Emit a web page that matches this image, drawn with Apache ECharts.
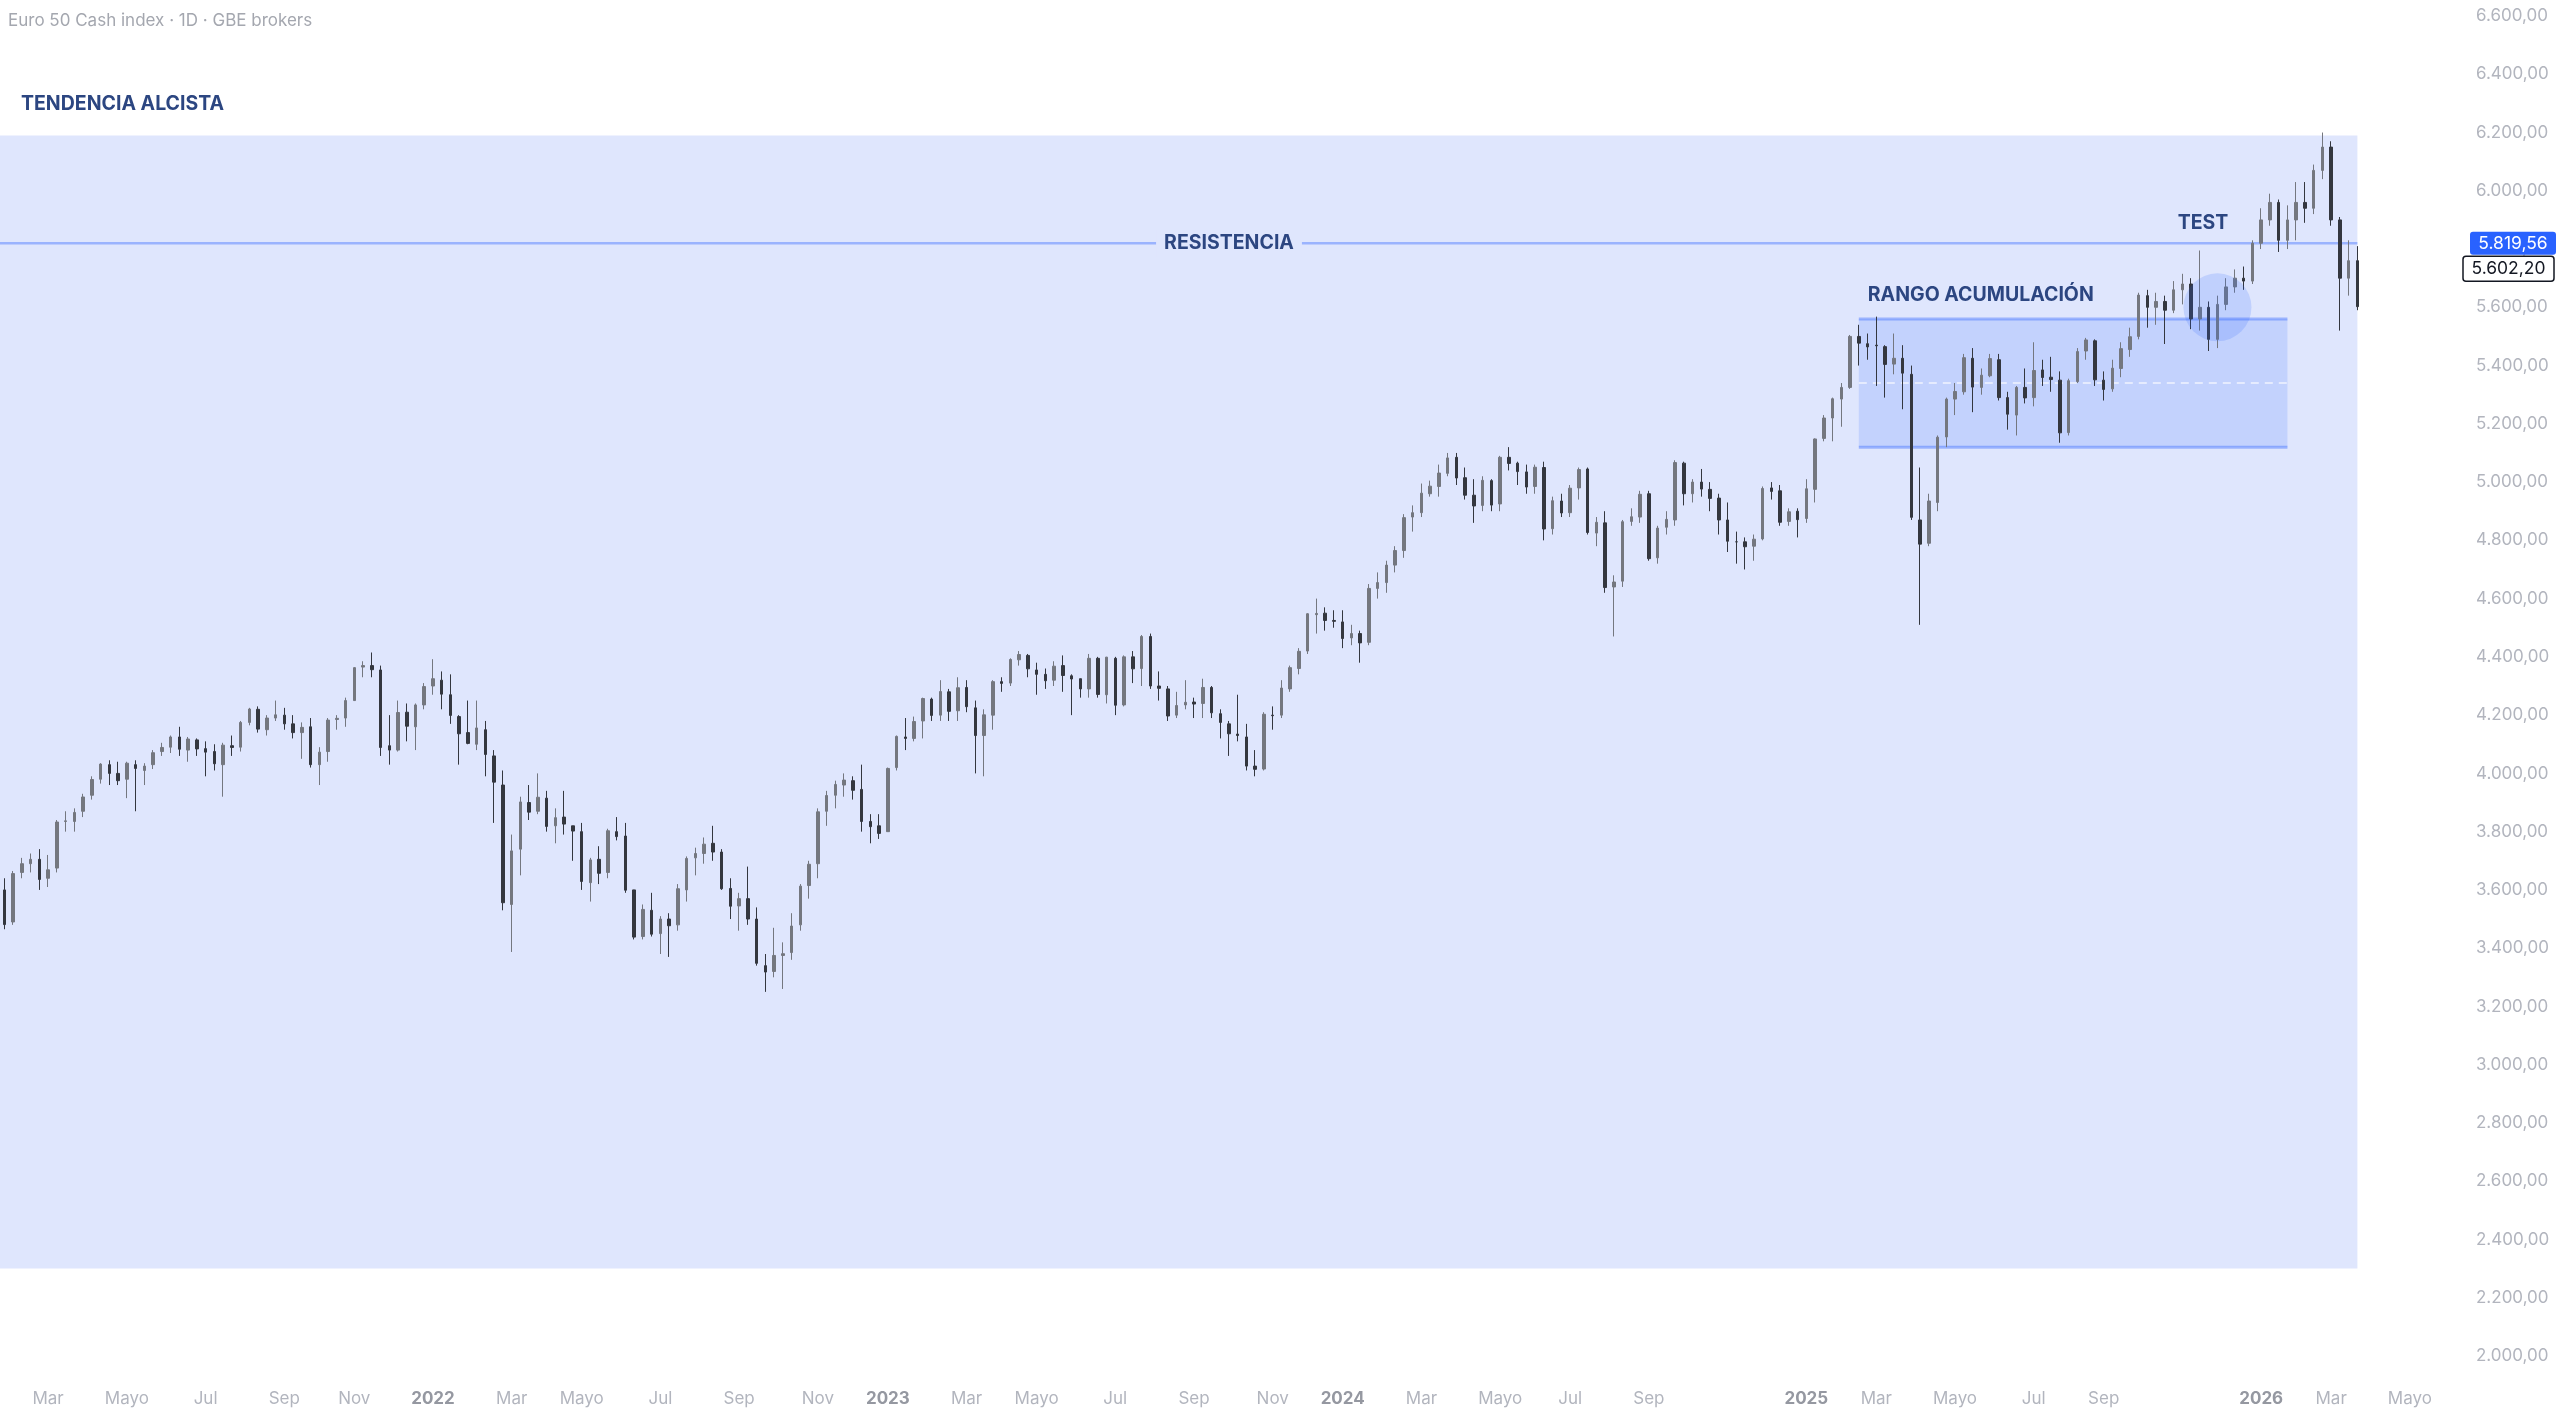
<!DOCTYPE html>
<html>
<head>
<meta charset="utf-8">
<title>Euro 50 Cash index</title>
<script src="https://cdn.jsdelivr.net/npm/echarts@6/dist/echarts.min.js"></script>
<style>
  html, body { margin: 0; padding: 0; background: #fff; }
  #main { width: 2560px; height: 1414px; }
</style>
</head>
<body>
<div id="main"></div>
<script>
// weekly bars, each [open, close, low, high]
const ohlc2021 = [
  [3600,3481,3465,3640],[3490,3656,3480,3665],[3660,3690,3640,3710],[3690,3705,3660,3725],
  [3705,3636,3600,3740],[3640,3669,3610,3720],[3675,3833,3660,3840],[3835,3837,3800,3870],
  [3835,3866,3800,3880],[3870,3919,3850,3930],[3925,3979,3910,3990],[3980,4032,3965,4035],
  [4030,4000,3960,4045],[4000,3975,3960,4040],[3980,4035,3915,4040],[4030,4017,3870,4045],
  [4010,4025,3960,4035],[4030,4071,4015,4080],[4075,4089,4060,4105],[4090,4125,4070,4130],
  [4125,4083,4060,4160],[4080,4118,4040,4125],[4115,4084,4060,4120],[4085,4073,3990,4110],
  [4075,4033,4010,4100],[4030,4097,3920,4105],[4095,4089,4060,4130],[4090,4175,4075,4180],
  [4175,4221,4165,4225],[4220,4152,4140,4230],[4150,4190,4130,4200],[4190,4201,4180,4250],
  [4200,4170,4150,4225],[4170,4140,4120,4200],[4140,4158,4050,4175],[4160,4030,4020,4190],
  [4030,4073,3960,4090],[4075,4183,4040,4190],[4185,4189,4150,4200],[4190,4250,4160,4260],
  [4250,4363,4250,4365],[4365,4370,4330,4385],[4370,4356,4330,4415],[4355,4089,4060,4370],
  [4095,4080,4030,4200],[4080,4209,4075,4250],[4210,4162,4110,4240],[4160,4235,4080,4240],
  [4235,4298,4220,4310]
]
const ohlc2022 = [
  [4300,4325,4270,4392],[4320,4272,4220,4350],[4270,4199,4170,4340],[4195,4136,4030,4200],
  [4140,4103,4100,4250],[4100,4156,4080,4250],[4150,4065,3990,4180],[4060,3970,3830,4080],
  [3960,3556,3530,4010],[3550,3734,3387,3790],[3740,3902,3650,3920],[3900,3867,3840,3960],
  [3870,3918,3860,4000],[3915,3818,3800,3940],[3820,3848,3760,3880],[3850,3826,3790,3940],
  [3820,3802,3700,3820],[3800,3629,3600,3830],[3625,3703,3560,3710],[3705,3657,3620,3750],
  [3660,3803,3640,3810],[3800,3783,3770,3850],[3785,3599,3590,3830],[3600,3438,3430,3580],
  [3440,3533,3430,3550],[3530,3448,3440,3590],[3450,3500,3380,3510],[3500,3477,3370,3520],
  [3480,3604,3460,3620],[3600,3708,3560,3715],[3710,3725,3650,3745],[3725,3757,3690,3780],
  [3760,3730,3700,3820],[3730,3604,3600,3740],[3605,3544,3500,3640],[3545,3570,3460,3590],
  [3570,3500,3480,3680],[3500,3348,3340,3540],[3340,3318,3250,3380],[3320,3375,3300,3470],
  [3375,3381,3260,3420],[3385,3476,3360,3520],[3480,3613,3460,3620],[3615,3688,3570,3700],
  [3690,3868,3640,3880],[3870,3924,3820,3940],[3925,3962,3880,3975],[3960,3977,3920,4000],
  [3975,3942,3910,3990],[3945,3835,3800,4030],[3835,3817,3760,3860],[3820,3794,3775,3860]
]
const ohlc2023 = [
  [3800,4017,3800,4020],[4020,4127,4010,4130],[4125,4120,4080,4190],[4120,4178,4110,4195],
  [4180,4257,4120,4260],[4255,4199,4180,4260],[4200,4281,4180,4320],[4280,4213,4180,4290],
  [4215,4294,4180,4330],[4295,4229,4210,4320],[4225,4130,4000,4250],[4130,4201,3990,4220],
  [4200,4315,4150,4320],[4315,4309,4280,4330],[4310,4391,4300,4395],[4390,4408,4370,4420],
  [4405,4359,4330,4410],[4355,4340,4270,4380],[4340,4318,4290,4360],[4320,4368,4300,4385],
  [4370,4336,4280,4405],[4335,4324,4200,4340],[4325,4290,4260,4325],[4290,4395,4260,4410],
  [4395,4271,4260,4400],[4270,4399,4240,4400],[4395,4234,4200,4400],[4235,4400,4230,4405],
  [4400,4359,4310,4420],[4360,4470,4300,4475],[4470,4300,4290,4480],[4300,4292,4250,4350],
  [4290,4197,4180,4300],[4200,4233,4190,4280],[4235,4244,4220,4320],[4245,4238,4190,4260],
  [4240,4295,4190,4325],[4295,4208,4190,4300],[4205,4175,4120,4220],[4170,4136,4060,4180],
  [4135,4130,4110,4270],[4125,4025,4010,4170],[4025,4014,3990,4080],[4015,4203,4010,4210],
  [4200,4198,4150,4230],[4200,4293,4190,4320],[4290,4363,4280,4370],[4360,4419,4340,4430],
  [4420,4548,4410,4550],[4545,4549,4480,4600],[4550,4525,4490,4570],[4525,4522,4500,4560]
]
const ohlc2024 = [
  [4520,4463,4430,4560],[4465,4480,4440,4510],[4480,4448,4380,4490],[4450,4635,4440,4650],
  [4635,4655,4600,4690],[4655,4715,4620,4730],[4715,4765,4690,4780],[4765,4878,4740,4890],
  [4880,4895,4830,4920],[4895,4962,4880,4995],[4960,4986,4950,5005],[4985,5031,4950,5060],
  [5030,5083,5020,5100],[5085,5014,4990,5100],[5015,4955,4940,5050],[4955,4918,4860,5010],
  [4920,5006,4900,5020],[5005,4921,4900,5010],[4925,5085,4900,5090],[5085,5064,5040,5120],
  [5065,5036,4990,5070],[5035,4983,4960,5060],[4985,5051,4960,5060],[5050,4839,4800,5070],
  [4840,4936,4820,4950],[4935,4894,4880,4960],[4895,4979,4880,4990],[4980,5043,4940,5050],
  [5045,4827,4820,5050],[4825,4862,4780,4880],[4860,4638,4620,4900],[4640,4657,4470,4680],
  [4660,4864,4640,4870],[4865,4881,4850,4910],[4880,4958,4860,4970],[4960,4737,4730,4970],
  [4740,4842,4720,4850],[4845,4872,4820,4900],[4870,5067,4850,5075],[5065,4960,4920,5070],
  [4960,5000,4930,5010],[5000,4976,4950,5045],[4975,4944,4900,5000],[4945,4870,4820,4960],
  [4870,4797,4760,4930],[4795,4795,4720,4830],[4795,4778,4700,4810],[4780,4804,4730,4820],
  [4805,4978,4800,4985],[4980,4968,4940,5000],[4970,4862,4850,4990],[4865,4898,4850,4910],
  [4900,4871,4810,4910]
]
const ohlc2025 = [
  [4875,4977,4860,5010],[4975,5148,4930,5150],[5150,5220,5140,5230],[5220,5286,5140,5290],
  [5285,5325,5190,5340],[5325,5500,5320,5505],[5500,5477,5400,5540],[5475,5464,5420,5510],
  [5470,5468,5330,5568],[5465,5404,5290,5470],[5405,5425,5370,5510],[5425,5374,5250,5470],
  [5370,4879,4870,5400],[4870,4787,4510,5050],[4790,4935,4780,4960],[4930,5154,4900,5160],
  [5155,5285,5120,5290],[5285,5311,5230,5340],[5310,5427,5300,5440],[5425,5326,5240,5460],
  [5325,5367,5300,5390],[5365,5424,5360,5440],[5420,5290,5280,5440],[5290,5233,5180,5310],
  [5230,5325,5160,5330],[5325,5289,5270,5390],[5290,5383,5260,5480],[5385,5359,5330,5420],
  [5360,5352,5310,5430],[5350,5169,5135,5380],[5170,5348,5160,5355],[5345,5448,5340,5460],
  [5450,5488,5420,5495],[5485,5351,5330,5490],[5350,5318,5280,5380],[5320,5391,5310,5420],
  [5390,5458,5360,5480],[5455,5499,5430,5530],[5500,5642,5490,5650],[5640,5600,5530,5660],
  [5600,5620,5540,5650],[5620,5590,5474,5640],[5590,5660,5580,5690],[5660,5680,5610,5715],
  [5680,5560,5525,5700],[5560,5600,5520,5795],[5600,5490,5450,5620],[5490,5610,5460,5640],
  [5610,5670,5590,5700],[5670,5700,5650,5730],[5700,5690,5660,5740],[5690,5820,5680,5830]
]
const ohlc2026 = [
  [5820,5900,5800,5940],[5900,5960,5880,5990],[5960,5830,5790,5970],[5830,5900,5800,5950],
  [5900,5960,5830,6030],[5960,5940,5890,6030],[5940,6070,5920,6090],[6070,6150,6040,6200],
  [6150,5900,5880,6170],[5900,5700,5520,5910],[5700,5760,5640,5830],[5760,5602.2,5590,5810]
]

// x axis: one category per trading week, running past the last bar
const firstWeek = '2021-01-25'
const axisWeeks = 281
const monthLabels = ['Ene', 'Feb', 'Mar', 'Abr', 'Mayo', 'Jun', 'Jul', 'Ago', 'Sep', 'Oct', 'Nov', 'Dic']
const hiddenMonths = ['2024-11', '2025-11']

// y axis ticks
const priceMin = 2000
const priceMax = 6600
const priceStep = 200

// drawings
const trendTop = 6190
const trendBottom = 2300
const resistanceLevel = 5819.56
const lastPrice = 5602.20
const rangeTop = 5560
const rangeBottom = 5120
const rangeStart = '2025-02-17'
const rangeEnd = '2026-01-26'
const testWeek = '2025-11-17'
const testCircleWeek = '2025-12-01'
const testCirclePrice = 5600
const resistanceLabelWeek = '2023-10-02'

const prices = [].concat(ohlc2021, ohlc2022, ohlc2023, ohlc2024, ohlc2025, ohlc2026)

const DAY = 864e5
const weeks = []
const t0 = Date.parse(firstWeek + 'T00:00:00Z')
for (let i = 0; i < axisWeeks; i++) {
  weeks.push(new Date(t0 + i * 7 * DAY).toISOString().slice(0, 10))
}

// a week gets the month label when its monday is the first one in that month
function mondayMonth(i) {
  const d = new Date(t0 + i * 7 * DAY)
  return [d.getUTCFullYear(), d.getUTCMonth()]
}
function tickText(i) {
  if (i === 0) return ''
  const [y, m] = mondayMonth(i)
  const [, pm] = mondayMonth(i - 1)
  if (m === pm || m % 2 !== 0) return ''
  if (hiddenMonths.indexOf(y + '-' + String(m + 1).padStart(2, '0')) >= 0) return ''
  return m === 0 ? '{y|' + y + '}' : monthLabels[m]
}

function fmtPrice(v) {
  const parts = Number(v).toFixed(2).split('.')
  return parts[0].replace(/\B(?=(\d{3})+(?!\d))/g, '.') + ',' + parts[1]
}

const navy = '#2c4681'
const font = 'Inter, "Noto Sans", sans-serif'
const lineBlue = 'rgba(41, 98, 255, 0.38)'

function drawBackground(params, api) {
  const band = api.size([1, 0])[0]
  const lastIdx = prices.length - 1
  const left = api.coord([0, trendTop])[0] - band / 2
  const right = api.coord([lastIdx, trendTop])[0]
  const top = api.coord([0, trendTop])[1]
  const bottom = api.coord([0, trendBottom])[1]
  const resY = api.coord([0, resistanceLevel])[1]
  const r0 = weeks.indexOf(rangeStart)
  const r1 = weeks.indexOf(rangeEnd)
  const rx0 = api.coord([r0, rangeTop])[0]
  const rx1 = api.coord([r1, rangeTop])[0]
  const ry0 = api.coord([r0, rangeTop])[1]
  const ry1 = api.coord([r0, rangeBottom])[1]
  const rMid = api.coord([r0, (rangeTop + rangeBottom) / 2])[1]
  return {
    type: 'group',
    children: [
      { type: 'rect', shape: { x: left, y: top, width: right - left, height: bottom - top },
        style: { fill: '#dfe6fd' } },
      { type: 'line', shape: { x1: left, y1: resY, x2: right, y2: resY },
        style: { stroke: lineBlue, lineWidth: 2.5 } },
      { type: 'rect', shape: { x: rx0, y: ry0, width: rx1 - rx0, height: ry1 - ry0 },
        style: { fill: 'rgba(41, 98, 255, 0.15)' } },
      { type: 'line', shape: { x1: rx0, y1: ry0, x2: rx1, y2: ry0 },
        style: { stroke: lineBlue, lineWidth: 3 } },
      { type: 'line', shape: { x1: rx0, y1: ry1, x2: rx1, y2: ry1 },
        style: { stroke: lineBlue, lineWidth: 3 } },
      { type: 'line', shape: { x1: rx0, y1: rMid, x2: rx1, y2: rMid },
        style: { stroke: 'rgba(255, 255, 255, 0.75)', lineWidth: 1.5, lineDash: [8, 6] } }
    ]
  }
}

function drawOverlay(params, api) {
  const cs = params.coordSys
  const left = api.coord([0, trendTop])[0] - api.size([1, 0])[0] / 2
  const top = api.coord([0, trendTop])[1]
  const resY = api.coord([0, resistanceLevel])[1]
  const resX = api.coord([weeks.indexOf(resistanceLabelWeek), resistanceLevel])[0]
  const r0 = weeks.indexOf(rangeStart)
  const rx0 = api.coord([r0, rangeTop])[0]
  const ry0 = api.coord([r0, rangeTop])[1]
  const testX = api.coord([weeks.indexOf(testWeek), resistanceLevel])[0]
  const circ = api.coord([weeks.indexOf(testCircleWeek), testCirclePrice])
  const tagX = cs.x + cs.width
  const bold = { fill: navy, fontSize: 19.5, fontWeight: 'bold', fontFamily: font }
  return {
    type: 'group',
    children: [
      { type: 'circle', shape: { cx: circ[0], cy: circ[1], r: 34 },
        style: { fill: 'rgba(41, 98, 255, 0.17)' } },
      { type: 'text', x: left + 21, y: top - 31,
        style: Object.assign({ text: 'TENDENCIA ALCISTA', align: 'left', verticalAlign: 'middle' }, bold) },
      { type: 'text', x: resX, y: resY,
        style: Object.assign({ text: 'RESISTENCIA', align: 'center', verticalAlign: 'middle',
          backgroundColor: '#dfe6fd', padding: [3, 8] }, bold) },
      { type: 'text', x: rx0 + 9, y: ry0 - 24,
        style: Object.assign({ text: 'RANGO ACUMULACIÓN', align: 'left', verticalAlign: 'middle' }, bold) },
      { type: 'text', x: testX + 3, y: resY - 20,
        style: Object.assign({ text: 'TEST', align: 'center', verticalAlign: 'middle' }, bold) },
      // price tags on the scale
      { type: 'rect', shape: { x: tagX + 12, y: resY - 11.5, width: 86, height: 23, r: 3 },
        style: { fill: '#2962ff' } },
      { type: 'text', x: tagX + 55, y: resY,
        style: { text: fmtPrice(resistanceLevel), fill: '#fff', fontSize: 17.5, fontFamily: font,
          align: 'center', verticalAlign: 'middle' } },
      { type: 'rect', shape: { x: tagX + 5, y: resY + 13, width: 91, height: 25, r: 3 },
        style: { fill: '#fff', stroke: '#131722', lineWidth: 1.5 } },
      { type: 'text', x: tagX + 50.5, y: resY + 25.5,
        style: { text: fmtPrice(lastPrice), fill: '#131722', fontSize: 17.5, fontFamily: font,
          align: 'center', verticalAlign: 'middle' } }
    ]
  }
}

const myChart = echarts.init(document.getElementById('main'))

const option = {
  animation: false,
  backgroundColor: '#ffffff',
  title: {
    text: 'Euro 50 Cash index · 1D · GBE brokers',
    left: 3,
    top: 7,
    textStyle: { fontSize: 17, fontWeight: 'normal', color: '#a4a7af', fontFamily: font }
  },
  grid: { left: 0, right: 102, top: 16, bottom: 58 },
  xAxis: {
    type: 'category',
    data: weeks,
    boundaryGap: true,
    axisLine: { show: false },
    axisTick: { show: false },
    splitLine: { show: false },
    axisLabel: {
      interval: (i) => tickText(i) !== '',
      formatter: (v, i) => tickText(i),
      margin: 34,
      fontSize: 17,
      fontFamily: font,
      color: '#b2b5be',
      hideOverlap: false,
      rich: { y: { fontSize: 17, fontWeight: 'bold', color: '#9598a1', fontFamily: font } }
    }
  },
  yAxis: {
    type: 'value',
    position: 'right',
    min: priceMin,
    max: priceMax,
    interval: priceStep,
    axisLine: { show: false },
    axisTick: { show: false },
    splitLine: { show: false },
    axisLabel: {
      formatter: fmtPrice,
      align: 'left',
      margin: 18,
      fontSize: 17,
      fontFamily: font,
      color: '#b2b5be'
    }
  },
  series: [
    {
      type: 'custom',
      z: 1,
      silent: true,
      renderItem: drawBackground,
      data: [[0, trendTop]]
    },
    {
      type: 'candlestick',
      z: 2,
      barWidth: 3,
      data: prices,
      itemStyle: {
        color: '#74777f',
        color0: '#34373f',
        borderColor: '#74777f',
        borderColor0: '#34373f',
        borderWidth: 1
      }
    },
    {
      type: 'custom',
      z: 3,
      silent: true,
      clip: false,
      renderItem: drawOverlay,
      data: [[0, trendTop]]
    }
  ]
}

myChart.setOption(option)
</script>
</body>
</html>
